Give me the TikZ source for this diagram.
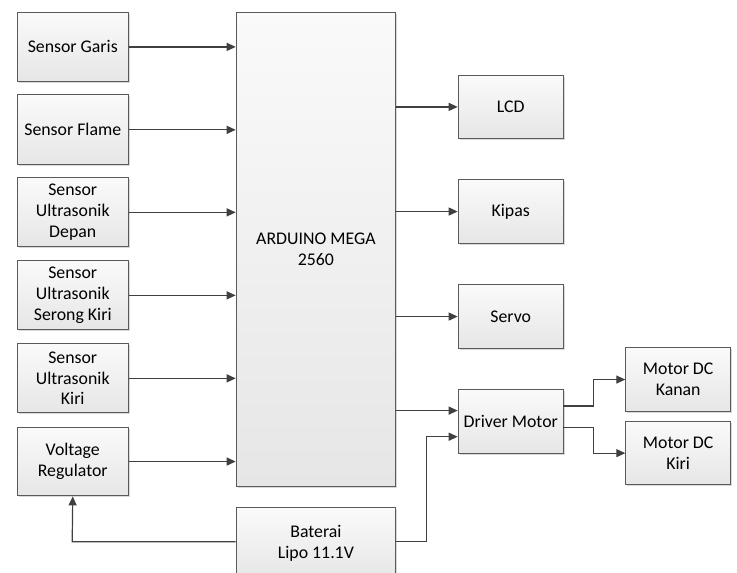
\documentclass[tikz,border=0pt]{standalone}
\usepackage{fontspec}
\setmainfont{Carlito}
\usetikzlibrary{arrows.meta,shadows,calc}
\definecolor{bordc}{HTML}{5A5A5A}
\definecolor{arrc}{HTML}{404040}
\definecolor{topc}{HTML}{FAFAFA}
\definecolor{botc}{HTML}{E6E6E6}
\tikzset{
  box/.style={rectangle, draw=bordc, line width=1.1pt, top color=topc, bottom color=botc,
    anchor=north west, align=center, inner sep=2pt,
    font=\fontsize{17.8}{20.7}\selectfont,
    drop shadow={shadow xshift=1.4pt, shadow yshift=-1.4pt, fill=black!25, opacity=0.6}},
  arr/.style={draw=arrc, line width=1.2pt, -{Triangle[length=9pt,width=8pt]}},
  ln/.style={draw=arrc, line width=1.2pt}
}
\begin{document}
\begin{tikzpicture}[x=1pt,y=-1pt]
\useasboundingbox (0,0) rectangle (737,573);
\clip (0,0) rectangle (737,573);
% left column
\node[box, minimum width=111pt, minimum height=69.3pt] (sg) at (16.7,11.7) {Sensor Garis};
\node[box, minimum width=111pt, minimum height=70pt] (sf) at (16.7,94.3) {Sensor Flame};
\node[box, minimum width=111pt, minimum height=69pt] (sud) at (16.7,177.3) {Sensor\\Ultrasonik\\Depan};
\node[box, minimum width=111pt, minimum height=69pt] (susk) at (16.7,260.3) {Sensor\\Ultrasonik\\Serong Kiri};
\node[box, minimum width=111pt, minimum height=69pt] (suk) at (16.7,343.3) {Sensor\\Ultrasonik\\Kiri};
\node[box, minimum width=111pt, minimum height=68.6pt] (vr) at (16.7,426.7) {Voltage\\Regulator};
% center
\node[box, minimum width=159.3pt, minimum height=474pt] (ard) at (235.7,11.7) {ARDUINO MEGA\\2560};
\node[box, minimum width=159.3pt, minimum height=72pt] (bat) at (235.7,507) {Baterai\\Lipo 11.1V};
% right column
\node[box, minimum width=105pt, minimum height=62.7pt] (lcd) at (457.7,75) {LCD};
\node[box, minimum width=105pt, minimum height=63.4pt] (kip) at (457.7,179.3) {Kipas};
\node[box, minimum width=105pt, minimum height=63.4pt] (srv) at (457.7,284.3) {Servo};
\node[box, minimum width=105pt, minimum height=63.4pt] (drv) at (457.7,389.3) {Driver Motor};
\node[box, minimum width=104.7pt, minimum height=63.4pt] (mka) at (625.3,347.3) {Motor DC\\Kanan};
\node[box, minimum width=104.7pt, minimum height=63.2pt] (mki) at (625.3,421) {Motor DC\\Kiri};
% inputs to arduino
\foreach \n in {sg,sf,sud,susk,suk,vr}{
  \draw[arr] (\n.east) -- (\n.east -| ard.west);
}
% outputs
\foreach \n in {lcd,kip,srv}{
  \draw[arr] (\n.west -| ard.east) -- (\n.west);
}
\coordinate (d1) at (457.7,410.6);
\coordinate (d2) at (457.7,436.7);
\draw[arr] (ard.east |- d1) -- (d1);
% battery
\coordinate (bl) at (72.2,541.7);
\coordinate (br) at (426.7,541.7);
\draw[arr] (bl -| bat.east) -- (br) -- (br |- d2) -- (d2);
\draw[arr] (bl -| bat.west) -- (bl) -- (vr.south);
% driver to motors
\coordinate (o1) at (562.7,406);
\coordinate (o2) at (562.7,427.3);
\coordinate (jx) at (593.3,0);
\draw[arr] (o1) -- (o1 -| jx) -- (jx |- mka.west) -- (mka.west);
\draw[arr] (o2) -- (o2 -| jx) -- (jx |- mki.west) -- (mki.west);
\end{tikzpicture}
\end{document}
